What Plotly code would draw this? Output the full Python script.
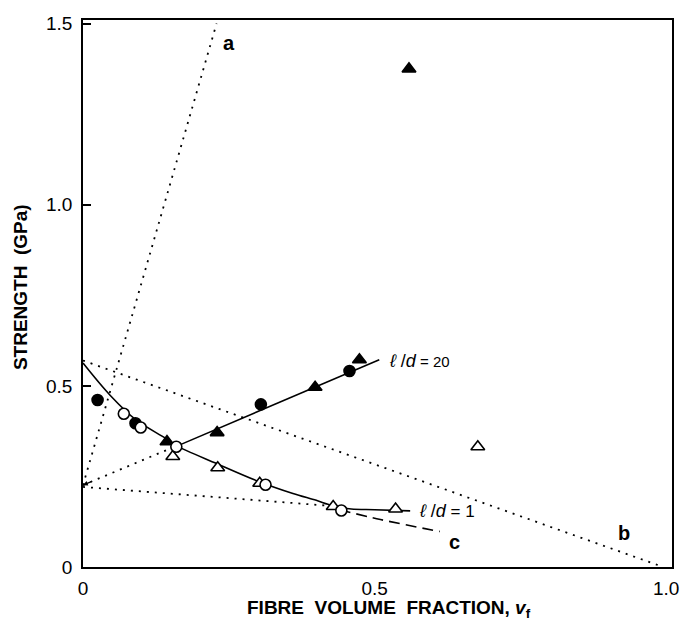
import plotly.graph_objects as go

# Measured strengths (GPa) against fibre volume fraction
filled_circle_x = [0.025, 0.090, 0.305, 0.457]
filled_circle_y = [0.461, 0.397, 0.449, 0.541]

open_circle_x = [0.070, 0.099, 0.160, 0.313, 0.443]
open_circle_y = [0.423, 0.385, 0.332, 0.227, 0.156]

filled_tri_x = [0.144, 0.230, 0.398, 0.474, 0.559]
filled_tri_y = [0.346, 0.371, 0.496, 0.572, 1.375]

open_tri_x = [0.154, 0.231, 0.303, 0.429, 0.536, 0.677]
open_tri_y = [0.305, 0.274, 0.231, 0.167, 0.160, 0.332]

# Fitted curves
ld20_x = [0.160, 0.508]
ld20_y = [0.333, 0.572]

ld1_x = [0.0, 0.046, 0.091, 0.142, 0.160, 0.230, 0.300, 0.360, 0.400, 0.420, 0.440, 0.460, 0.500, 0.561]
ld1_y = [0.563, 0.475, 0.406, 0.355, 0.335, 0.285, 0.237, 0.203, 0.184, 0.173, 0.164, 0.160, 0.158, 0.155]

curve_c_x = [0.440, 0.510, 0.612]
curve_c_y = [0.158, 0.131, 0.098]

# Theoretical bounds (dotted)
line_a_x = [0.0, 0.229]
line_a_y = [0.226, 1.500]

line_b_x = [0.0, 0.995]
line_b_y = [0.570, 0.0]

lower_x = [0.0, 0.430]
lower_y = [0.221, 0.168]

rise_x = [0.0, 0.151]
rise_y = [0.226, 0.328]

x_ticks = [0, 0.5, 1.0]
x_ticktext = ["0", "0.5", "1.0"]
y_ticks = [0, 0.5, 1.0, 1.5]
y_ticktext = ["0", "0.5", "1.0", "1.5"]

FONT = "Liberation Sans, Arial, Helvetica, sans-serif"
DOT = "2px,6px"
SP = "\u00a0"

fig = go.Figure()


def add_line(x, y, dash="solid", width=1.6, shape="linear"):
    fig.add_trace(go.Scatter(
        x=x, y=y, mode="lines",
        line=dict(color="black", width=width, dash=dash, shape=shape),
        hoverinfo="skip", showlegend=False))


add_line(line_a_x, line_a_y, DOT, 1.8)
add_line(line_b_x, line_b_y, DOT, 1.8)
add_line(lower_x, lower_y, DOT, 1.8)
add_line(rise_x, rise_y, DOT, 1.8)
add_line(ld20_x, ld20_y)
add_line(ld1_x, ld1_y, shape="spline")
add_line(curve_c_x, curve_c_y, "11px,6px", 1.6, "spline")


def add_markers(x, y, symbol, filled, size):
    fig.add_trace(go.Scatter(
        x=x, y=y, mode="markers",
        marker=dict(symbol=symbol, size=size,
                    color="black" if filled else "white",
                    line=dict(color="black", width=1.6)),
        hoverinfo="skip", showlegend=False))


add_markers(open_tri_x, open_tri_y, "triangle-up", False, 12)
add_markers(filled_tri_x, filled_tri_y, "triangle-up", True, 12)
add_markers(filled_circle_x, filled_circle_y, "circle", True, 11)
add_markers(open_circle_x, open_circle_y, "circle", False, 11)

annotations = [
    dict(x=0.250, y=1.447, text="<b>a</b>", font=dict(size=20)),
    dict(x=0.927, y=0.093, text="<b>b</b>", font=dict(size=20)),
    dict(x=0.637, y=0.070, text="<b>c</b>", font=dict(size=20)),
    dict(x=0.522, y=0.570,
         text="<i>ℓ</i>" + SP + "/<i>d</i><span style='font-size:15px'> = 20</span>",
         xanchor="left", font=dict(size=18)),
    dict(x=0.573, y=0.155,
         text="<i>ℓ</i>" + SP + "/<i>d</i><span style='font-size:17px'> = 1</span>",
         xanchor="left", font=dict(size=18)),
]
for a in annotations:
    a.setdefault("xanchor", "center")
    a.update(xref="x", yref="y", showarrow=False, yanchor="middle")
    a["font"] = dict(family=FONT, color="black", **a["font"])
    fig.add_annotation(**a)

# Small arrowhead where the dotted lines meet the strength axis
fig.add_annotation(x=0.0, y=0.226, ax=0.018, ay=0.238, xref="x", yref="y",
                   axref="x", ayref="y", showarrow=True, arrowhead=2,
                   arrowsize=0.8, arrowwidth=1.2, arrowcolor="black", text="")

# Axis titles
x_title = ("<b>FIBRE" + SP * 2 + "VOLUME" + SP * 2 + "FRACTION," + SP
           + "<i>v</i><sub>f</sub></b>")
y_title = "<b>STRENGTH" + SP * 2 + "(GPa)</b>"
fig.add_annotation(x=0.52, y=-0.077, xref="paper", yref="paper",
                   text=x_title, showarrow=False, xanchor="center",
                   yanchor="middle",
                   font=dict(family=FONT, size=19, color="black"))
fig.add_annotation(x=-0.105, y=0.512, xref="paper", yref="paper",
                   text=y_title, textangle=-90,
                   showarrow=False, xanchor="center", yanchor="middle",
                   font=dict(family=FONT, size=19, color="black"))

fig.update_layout(
    width=691, height=624,
    margin=dict(l=83, r=14, t=20, b=57),
    paper_bgcolor="white", plot_bgcolor="white",
    font=dict(family=FONT, size=19, color="black"),
    xaxis=dict(range=[0, 1.01], tickvals=x_ticks, ticktext=x_ticktext,
               showgrid=False, zeroline=False, showline=True, mirror=True,
               linecolor="black", linewidth=1.5, ticks="", ticklabelstandoff=3),
    yaxis=dict(range=[0, 1.51], tickvals=y_ticks, ticktext=y_ticktext,
               showgrid=False, zeroline=False, showline=True, mirror=True,
               linecolor="black", linewidth=1.5, ticks="inside", ticklen=8,
               tickwidth=1.5, tickcolor="black", ticklabelstandoff=5),
)

fig.write_html("out.html")
